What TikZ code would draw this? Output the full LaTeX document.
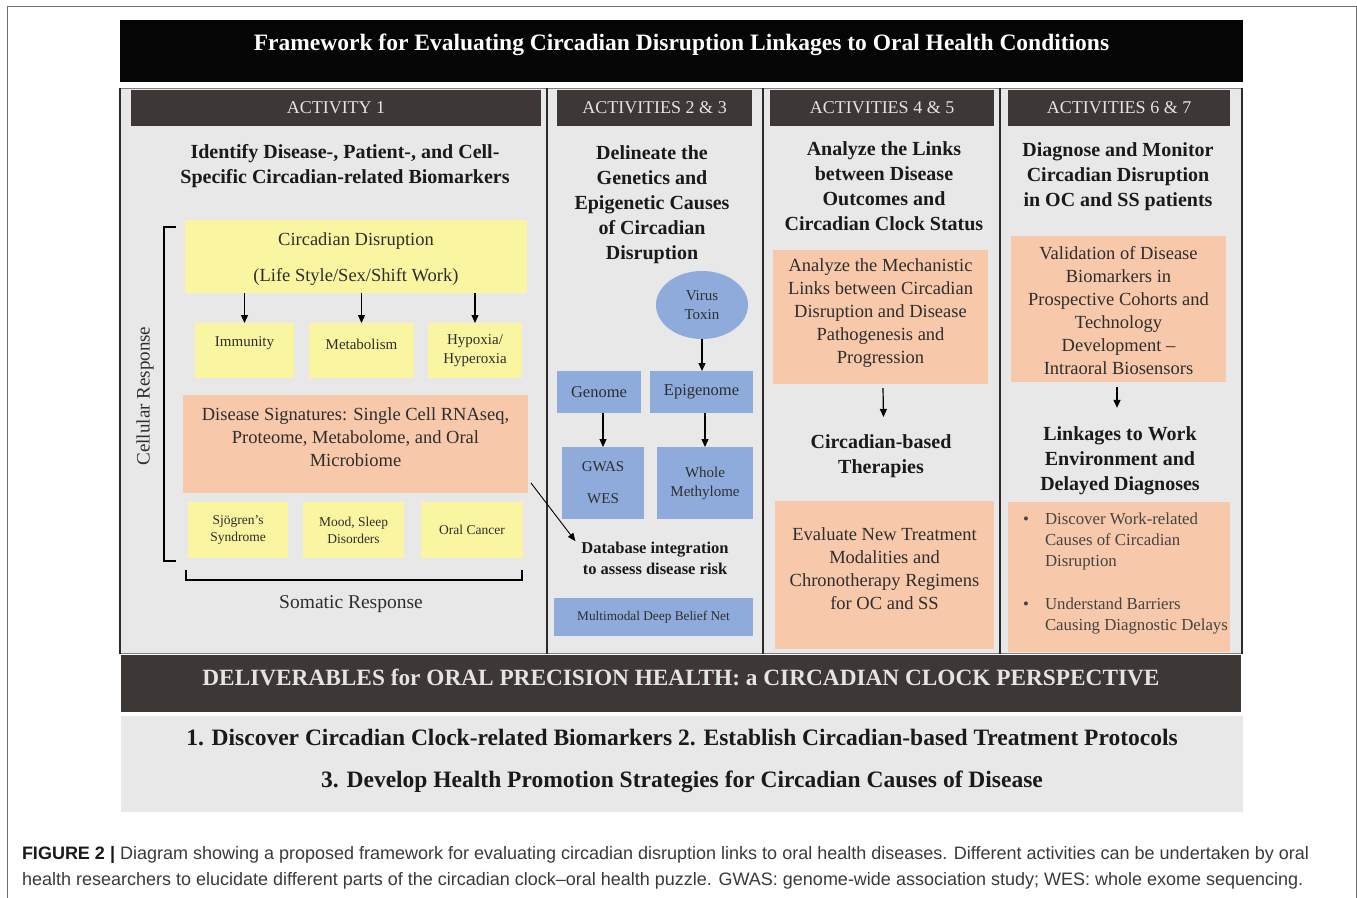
\documentclass[tikz,border=0pt]{standalone}
\usepackage{fontspec}
\setmainfont{Liberation Serif}
\newfontfamily\capfont{Liberation Sans}
\usetikzlibrary{arrows.meta,shapes.geometric,calc}

\definecolor{bannerblk}{HTML}{050505}
\definecolor{hdrdark}{HTML}{3D3836}
\definecolor{panelgray}{HTML}{E8E8E8}
\definecolor{cyel}{HTML}{FAF5A0}
\definecolor{csal}{HTML}{F7C8A9}
\definecolor{cblue}{HTML}{8EABDC}
\definecolor{txtdark}{HTML}{1A1A1A}
\definecolor{txtbox}{HTML}{2E2E2E}
\definecolor{txtsoft}{HTML}{444444}
\definecolor{hdrtext}{HTML}{E4E4E4}
\definecolor{framegray}{HTML}{6E6E6E}
\definecolor{captext}{HTML}{3A3A3A}
\definecolor{divcol}{HTML}{2B2B2B}

\newcommand{\setfs}[2]{\fontsize{#1}{#2}\selectfont}

\begin{document}
\begin{tikzpicture}[x=1pt,y=-1pt,
  every node/.style={inner sep=0pt, outer sep=0pt},
  arr/.style={-{Triangle[length=8pt,width=7pt]}, line width=1.2pt, draw=black},
  thinarr/.style={-{Triangle[length=8pt,width=6.5pt]}, line width=0.9pt, draw=black},
  divline/.style={draw=divcol, line width=1.4pt},
  hdr/.style={fill=hdrdark, text=hdrtext, minimum height=36pt, font=\setfs{18}{22}},
  ttl/.style={font=\bfseries\setfs{20}{25}, align=center, text=txtdark},
  ybox/.style={fill=cyel, align=center, text=txtbox},
  sbox/.style={fill=csal, align=center, text=txtbox},
  bbox/.style={fill=cblue, align=center, text=txtbox},
  body/.style={font=\setfs{18.5}{23}, align=center, text=txtbox},
  bracket/.style={draw=black, line width=1.6pt}
]
\useasboundingbox (0,0) rectangle (1357,897);
\fill[white] (0,0) rectangle (1357,897);

% outer figure frame
\draw[framegray, line width=1pt] (7,905) -- (7,6) -- (1356,6) -- (1356,905);

% title banner
\node[fill=bannerblk, minimum width=1123pt, minimum height=62pt] (banner) at (681.5,51) {};
\node[font=\bfseries\setfs{23.5}{28}, text=white] (bannertitle) at (681.5,45)
  {Framework for Evaluating Circadian Disruption Linkages to Oral Health Conditions};

% activity panel and column dividers
\node[fill=panelgray, draw=gray, line width=0.8pt, minimum width=1122pt, minimum height=565pt] (panel) at (681,370.5) {};
\draw[divline] (120,88) -- (120,654);
\draw[divline] (547,88) -- (547,654);
\draw[divline] (763,88) -- (763,654);
\draw[divline] (1000,88) -- (1000,654);
\draw[divline] (1242,88) -- (1242,654);

% column headers
\node[hdr, minimum width=410pt] (h1) at (336,108) {ACTIVITY 1};
\node[hdr, minimum width=195pt] (h2) at (654.5,108) {ACTIVITIES 2 \& 3};
\node[hdr, minimum width=224pt] (h3) at (882,108) {ACTIVITIES 4 \& 5};
\node[hdr, minimum width=222pt] (h4) at (1119,108) {ACTIVITIES 6 \& 7};

% ---------- Activity 1 ----------
\node[ttl] (t1) at (345,166) {Identify Disease-, Patient-, and Cell-\\Specific Circadian-related Biomarkers};

\node[ybox, minimum width=342pt, minimum height=73pt] (cd) at (356,256.5) {};
\node[font=\setfs{18.5}{36}, align=center, text=txtbox] (cdt) at (356,259.5)
  {Circadian Disruption\\(Life Style/Sex/Shift Work)};

\node[ybox, minimum width=99pt, minimum height=55pt] (im) at (244.5,350.5) {};
\node[font=\setfs{15}{19}, text=txtbox] (imt) at (244.5,343) {Immunity};
\node[ybox, minimum width=105pt, minimum height=55pt] (me) at (361.5,350.5) {};
\node[font=\setfs{15}{19}, text=txtbox] (met) at (361.5,344) {Metabolism};
\node[ybox, minimum width=94pt, minimum height=55pt, font=\setfs{15}{19}] (hy) at (475,350.5) {Hypoxia/\\Hyperoxia};

\draw[arr] (im.north |- cd.south) -- (im.north);
\draw[arr] (me.north |- cd.south) -- (me.north);
\draw[arr] (hy.north |- cd.south) -- (hy.north);

\node[sbox, minimum width=345pt, minimum height=98pt] (sig) at (355.5,444) {};
\node[body] (sigt) at (355.5,437) {Disease Signatures: Single Cell RNAseq,\\Proteome, Metabolome, and Oral\\Microbiome};

\node[ybox, minimum width=100pt, minimum height=56pt, font=\setfs{13.5}{17}] (sj) at (238,530) {Sjögren’s\\Syndrome};
\node[ybox, minimum width=101pt, minimum height=56pt, font=\setfs{13.5}{17}] (mo) at (353.5,530) {Mood, Sleep\\Disorders};
\node[ybox, minimum width=102pt, minimum height=56pt, font=\setfs{13.5}{17}] (oc) at (472,530) {Oral Cancer};

% response brackets
\coordinate (cbtop) at (176,227);
\coordinate (cbbot) at (176,561);
\draw[bracket] (cbtop) -- (164,227) -- (164,561) -- (cbbot);
\node[rotate=90, font=\setfs{19}{22}, text=txtbox] (cellular) at (145,396) {Cellular Response};

\coordinate (sbl) at (186,570);
\coordinate (sbr) at (522,570);
\draw[bracket] (sbl) -- (186,580) -- (522,580) -- (sbr);
\node[font=\setfs{19.5}{22}, text=txtbox] (somatic) at (351,604) {Somatic Response};

% ---------- Activities 2 & 3 ----------
\node[ttl] (t2) at (652,205) {Delineate the\\Genetics and\\Epigenetic Causes\\of Circadian\\Disruption};

\node[ellipse, fill=cblue, minimum width=92pt, minimum height=68pt, align=center, font=\setfs{15}{19}, text=txtbox] (vt) at (702,305) {Virus\\Toxin};

\node[bbox, minimum width=84pt, minimum height=42pt, font=\setfs{16.5}{20}] (ge) at (599,392) {Genome};
\node[bbox, minimum width=103pt, minimum height=42pt, font=\setfs{16.5}{20}] (ep) at (701.5,392) {Epigenome};
\node[bbox, minimum width=82pt, minimum height=72pt, font=\setfs{15}{32}] (gw) at (603,483) {GWAS\\WES};
\node[bbox, minimum width=96pt, minimum height=72pt, font=\setfs{15}{19}] (wm) at (705,483) {Whole\\Methylome};

\draw[arr] (vt.south) -- (vt.south |- ep.north);
\draw[arr] (gw.north |- ge.south) -- (gw.north);
\draw[arr] (wm.north |- ep.south) -- (wm.north);

\node[font=\bfseries\setfs{16.5}{21}, align=center, text=txtdark] (db) at (655,558.5) {Database integration\\to assess disease risk};
\node[bbox, minimum width=199pt, minimum height=38pt, font=\setfs{13.3}{16}] (mm) at (653.5,617) {Multimodal Deep Belief Net};

\draw[thinarr] ($(sig.south east)+(3,-10)$) -- ($(db.north west)+(-6,-1)$);

% ---------- Activities 4 & 5 ----------
\node[ttl] (t3) at (884,186.5) {Analyze the Links\\between Disease\\Outcomes and\\Circadian Clock Status};

\node[sbox, minimum width=215pt, minimum height=134pt] (ma) at (880.5,317) {};
\node[body] (mat) at (880.5,313) {Analyze the Mechanistic\\Links between Circadian\\Disruption and Disease\\Pathogenesis and\\Progression};

\node[ttl] (th) at (881,456.5) {Circadian-based\\Therapies};
\draw[arr] ($(ma.south)+(2.5,4)$) -- ($(th.north)+(2.5,-18)$);

\node[sbox, minimum width=219pt, minimum height=148pt] (ev) at (884.5,575) {};
\node[body] (evt) at (884.5,569) {Evaluate New Treatment\\Modalities and\\Chronotherapy Regimens\\for OC and SS};

% ---------- Activities 6 & 7 ----------
\node[ttl] (t4) at (1118,177) {Diagnose and Monitor\\Circadian Disruption\\in OC and SS patients};

\node[sbox, minimum width=215pt, minimum height=146pt] (va) at (1118.5,309) {};
\node[body] (vat) at (1118.5,311) {Validation of Disease\\Biomarkers in\\Prospective Cohorts and\\Technology\\Development –\\Intraoral Biosensors};

\node[ttl] (lw) at (1120,461) {Linkages to Work\\Environment and\\Delayed Diagnoses};
\draw[arr] ($(va.south)+(-1.5,5)$) -- ($(lw.north)+(-3,-19)$);

\node[sbox, minimum width=222pt, minimum height=150pt] (bl) at (1119,577) {};
\node[anchor=west, font=\setfs{16.8}{21}, text=txtsoft, align=left] (blt) at (1023,573)
  {\begin{tabular}{@{}p{22pt}@{}l@{}}
   \textbullet & Discover Work-related\\
               & Causes of Circadian\\
               & Disruption\\[22pt]
   \textbullet & Understand Barriers\\
               & Causing Diagnostic Delays
   \end{tabular}};

% ---------- deliverables ----------
\node[fill=hdrdark, minimum width=1120pt, minimum height=57pt] (dbar) at (681,683.5) {};
\node[font=\bfseries\setfs{23.3}{28}, text=hdrtext] (dbart) at (681,677)
  {DELIVERABLES for ORAL PRECISION HEALTH: a CIRCADIAN CLOCK PERSPECTIVE};

\node[fill=panelgray, minimum width=1122pt, minimum height=96pt] (dbox) at (682,764) {};
\node[font=\bfseries\setfs{23.5}{42}, align=center, text=txtdark] (dboxt) at (682,761)
  {1. Discover Circadian Clock-related Biomarkers 2. Establish Circadian-based Treatment Protocols\\
   3. Develop Health Promotion Strategies for Circadian Causes of Disease};

% ---------- caption ----------
\node[anchor=base west, font=\capfont\setfs{18}{21}, text=captext] (cap1) at (22,859)
  {\textcolor{txtdark}{\textbf{FIGURE 2 |}} Diagram showing a proposed framework for evaluating circadian disruption links to oral health diseases. Different activities can be undertaken by oral};
\node[anchor=base west, font=\capfont\setfs{18}{21}, text=captext] (cap2) at (22,885)
  {health researchers to elucidate different parts of the circadian clock–oral health puzzle. GWAS: genome-wide association study; WES: whole exome sequencing.};
\end{tikzpicture}
\end{document}
